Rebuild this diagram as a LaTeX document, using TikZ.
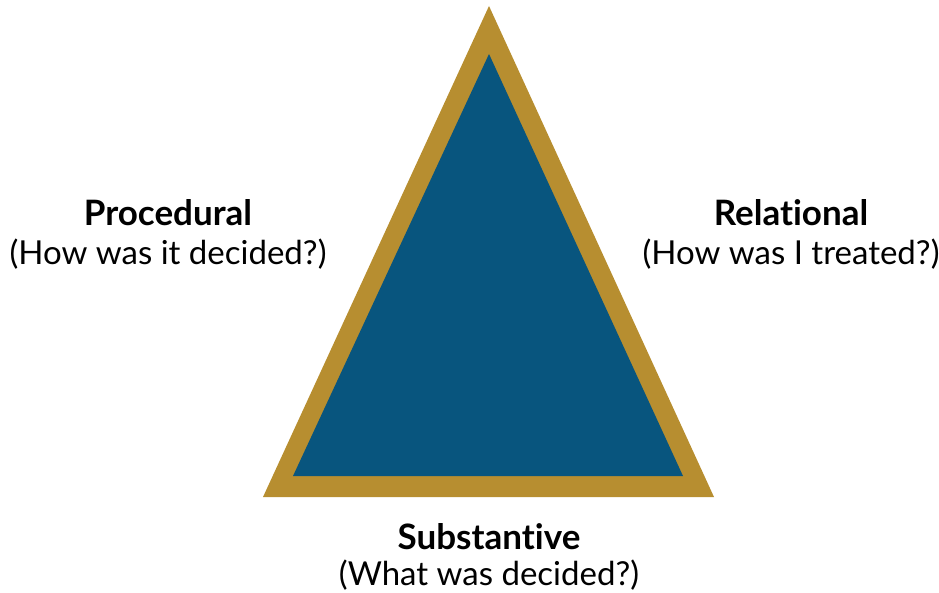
\documentclass[tikz,border=0pt]{standalone}
\usepackage{fontspec}
\setmainfont{Lato}[Ligatures=NoCommon]
\usepackage{tikz}

\definecolor{gold}{HTML}{B78E30}
\definecolor{navy}{HTML}{08557E}

\begin{document}
\begin{tikzpicture}[x=1pt,y=-1pt,every node/.style={anchor=base,inner sep=0pt,font=\fontsize{33}{40}\selectfont},
    head/.style={font=\fontsize{35}{40}\selectfont\bfseries}]
    \useasboundingbox (0,0) rectangle (939,593);
    % outer and inner triangle
    \fill[gold] (489,6) -- (714,497) -- (263,497) -- cycle;
    \fill[navy] (489,54) -- (683,476) -- (293,476) -- cycle;
    % labels
    \node[head] (proc) at (168,226) {Procedural};
    \node (procq) at (168,265) {(How was it decided?)};
    \node[head] (rel) at (791,226) {Relational};
    \node (relq) at (791,265) {(How was I treated?)};
    \node[head] (sub) at (489,549) {Substantive};
    \node (subq) at (489,585) {(What was decided?)};
\end{tikzpicture}
\end{document}
